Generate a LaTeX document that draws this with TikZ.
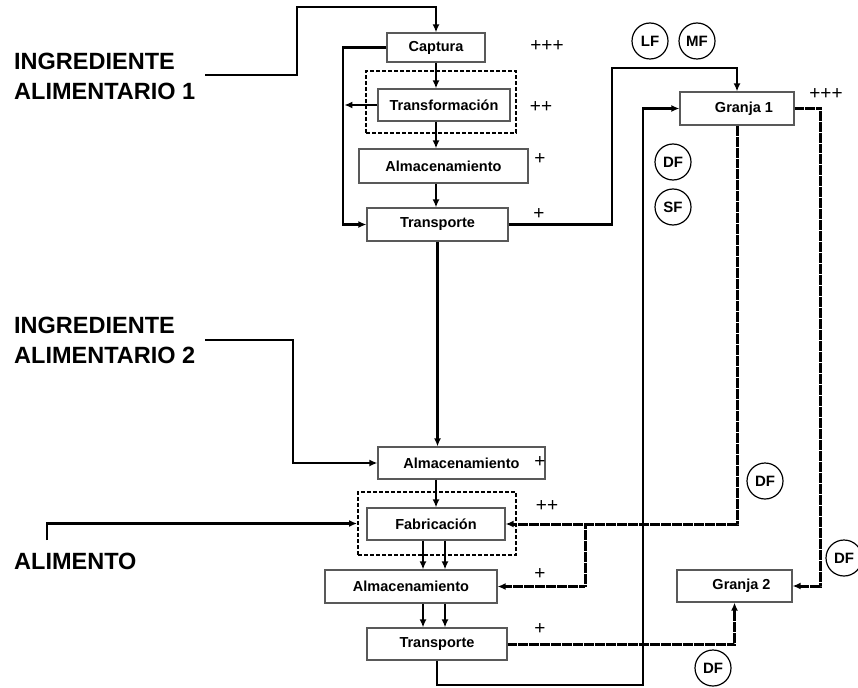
\documentclass[tikz,border=0pt]{standalone}
\usepackage{fontspec}
\setmainfont{Liberation Sans}
\usetikzlibrary{arrows.meta}

\begin{document}
\begin{tikzpicture}[x=1pt, y=-1pt, >={Latex[length=8pt,width=7pt]},
  caja/.style={draw=black!65, line width=1.2pt, inner sep=0pt, font=\fontsize{14.5}{16}\selectfont\bfseries},
  grupo/.style={draw, line width=1.8pt, dash pattern=on 4pt off 2pt, inner sep=0pt},
  flujo/.style={line width=2.2pt},
  punteado/.style={line width=3pt, dash pattern=on 0.75pt off 0.35pt},
  etiqueta/.style={anchor=west, align=left, inner sep=0pt, font=\fontsize{23.5}{30}\selectfont\bfseries},
  signo/.style={font=\fontsize{19}{19}\selectfont},
  circulo/.style={draw, circle, line width=1.2pt, minimum size=36pt, inner sep=0pt, font=\fontsize{15}{15}\selectfont\bfseries}]
  \useasboundingbox (0,0) rectangle (858,687);
  % Entradas
  \node[etiqueta] (ing1) at (14,76) {INGREDIENTE\\ALIMENTARIO 1};
  \node[etiqueta] (ing2) at (14,340) {INGREDIENTE\\ALIMENTARIO 2};
  \node[etiqueta] (alimento) at (14,561) {ALIMENTO};
  \coordinate (e1) at (205,75);
  \coordinate (e2) at (205,340);
  \coordinate (e3) at (47,540);
  % Grupos con borde discontinuo
  \node[grupo, minimum width=150pt, minimum height=62pt] (grupo1) at (441,102) {};
  \node[grupo, minimum width=158pt, minimum height=63pt] (grupo2) at (437,523.5) {};
  % Cadena del ingrediente 1
  \node[caja, minimum width=98pt, minimum height=29pt] (cap) at (436,47.5) {Captura};
  \node[caja, minimum width=132pt, minimum height=32pt] (trans1) at (444,105) {Transformación};
  \node[caja, minimum width=169pt, minimum height=34pt] (alm1) at (443.5,166) {Almacenamiento};
  \node[caja, minimum width=141pt, minimum height=33pt] (tra1) at (437.5,224.5) {Transporte};
  % Cadena del alimento
  \node[caja, minimum width=167pt, minimum height=32pt] (alm2) at (461.5,463) {Almacenamiento\hspace{20pt}};
  \node[caja, minimum width=138pt, minimum height=32pt] (fab) at (436,524) {Fabricación};
  \node[caja, minimum width=172pt, minimum height=33pt] (alm3) at (411,586.5) {Almacenamiento};
  \node[caja, minimum width=140pt, minimum height=32pt] (tra2) at (437,644) {Transporte};
  % Granjas
  \node[caja, minimum width=114pt, minimum height=33pt] (granja1) at (737,108.5) {\hspace{14pt}Granja 1};
  \node[caja, minimum width=115pt, minimum height=32pt] (granja2) at (734.5,586) {\hspace{14pt}Granja 2};
  % Signos
  \node[signo] (s1) at (547,46) {+++};
  \node[signo] (s2) at (541,107) {++};
  \node[signo] (s3) at (540,159) {+};
  \node[signo] (s4) at (539,214) {+};
  \node[signo] (s5) at (826,94) {+++};
  \node[signo] (s6) at (540,462) {+};
  \node[signo] (s7) at (547,506) {++};
  \node[signo] (s8) at (540,574) {+};
  \node[signo] (s9) at (540,629) {+};
  % Circulos
  \node[circulo] (lf) at (650,41) {LF};
  \node[circulo] (mf) at (697,41) {MF};
  \node[circulo] (df1) at (673,162) {DF};
  \node[circulo] (sf) at (673,207) {SF};
  \node[circulo] (df2) at (765,481) {DF};
  \node[circulo] (df3) at (844,558) {DF};
  \node[circulo] (df4) at (713,668) {DF};
  % Flujos continuos
  \draw[flujo,->] (e1) -- (297,75) |- (436,7) -- (cap.north);
  \draw[flujo,->] (cap.south) -- (cap.south |- trans1.north);
  \draw[flujo,->] (cap.south |- trans1.south) -- (cap.south |- alm1.north);
  \draw[flujo,->] (cap.south |- alm1.south) -- (cap.south |- tra1.north);
  \draw[flujo,->] (cap.west) -- (343,47.5) |- (tra1.west);
  \draw[flujo,->] (trans1.west) -- ++(-33,0);
  \draw[flujo,->] (tra1.east) -| (612,68) -| (granja1.north);
  \draw[flujo,->] (tra1.south) -- (tra1.south |- alm2.north);
  \draw[flujo,->] (e2) -| (293,463) -- (alm2.west);
  \draw[flujo,->] (fab.north |- alm2.south) -- (fab.north);
  \draw[flujo,->] (e3) |- (grupo2.west);
  \draw[flujo,->] ([xshift=-13pt]fab.south) -- ([xshift=-13pt]fab.south |- alm3.north);
  \draw[flujo,->] ([xshift=9pt]fab.south) -- ([xshift=9pt]fab.south |- alm3.north);
  \draw[flujo,->] ([xshift=-13pt]fab.south |- alm3.south) -- ([xshift=-13pt]fab.south |- tra2.north);
  \draw[flujo,->] ([xshift=9pt]fab.south |- alm3.south) -- ([xshift=9pt]fab.south |- tra2.north);
  \draw[flujo,->] (tra2.south) |- (643,685) |- (granja1.west);
  % Flujos punteados
  \draw[punteado,->] (granja1.east) -| (820,586) -- (granja2.east);
  \draw[punteado,->] (granja1.south) |- (fab.east);
  \coordinate (rama) at (585,524);
  \draw[punteado,->] (rama) |- (alm3.east);
  \draw[punteado,->] (tra2.east) -| (granja2.south);
\end{tikzpicture}
\end{document}
